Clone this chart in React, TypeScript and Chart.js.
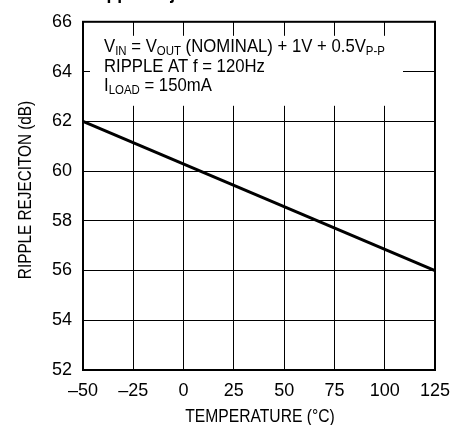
import React, { useEffect, useRef } from "react";
import { Chart, registerables } from "chart.js";

Chart.register(...registerables);

const temperatures = [-50, 125];
const rejection = [62, 56];
const xTicks = [-50, -25, 0, 25, 50, 75, 100, 125];
const yTicks = [52, 54, 56, 58, 60, 62, 64, 66];

const FONT = '"Liberation Sans", Arial, sans-serif';

const overlay = {
  id: "overlay",
  beforeDatasetsDraw(chart: any) {
    const ctx = chart.ctx;
    const a = chart.chartArea;
    ctx.save();
    ctx.fillStyle = "#fff";
    ctx.fillRect(a.left + 7, a.top + 14, 313, 70);
    ctx.fillStyle = "#000";
    ctx.textBaseline = "alphabetic";
    const sx = 0.88;
    const main = `19px ${FONT}`;
    const sub = `13px ${FONT}`;
    const drawRuns = (runs: [string, boolean][], x: number, y: number) => {
      ctx.save();
      ctx.translate(x, 0);
      ctx.scale(sx, 1);
      let cx = 0;
      for (const [t, s] of runs) {
        ctx.font = s ? sub : main;
        ctx.fillText(t, cx, s ? y + 3 : y);
        cx += ctx.measureText(t).width;
      }
      ctx.restore();
    };
    const x0 = a.left + 21;
    drawRuns([["V", false], ["IN", true], [" = V", false], ["OUT", true], [" (NOMINAL) + 1V + 0.5V", false], ["P-P", true]], x0, 52);
    drawRuns([["RIPPLE AT f = 120Hz", false]], x0, 72);
    drawRuns([["I", false], ["LOAD", true], [" = 150mA", false]], x0, 91);
    ctx.restore();
  },
  afterDraw(chart: any) {
    const ctx = chart.ctx;
    const a = chart.chartArea;
    ctx.save();
    ctx.strokeStyle = "#000";
    ctx.lineWidth = 2;
    ctx.strokeRect(a.left, a.top, a.right - a.left, a.bottom - a.top);
    ctx.restore();

    ctx.save();
    ctx.fillStyle = "#000";
    ctx.font = `18px ${FONT}`;
    ctx.textAlign = "center";
    ctx.textBaseline = "middle";
    ctx.translate(260, 417);
    ctx.scale(0.87, 1);
    ctx.fillText("TEMPERATURE (\u00B0C)", 0, 0);
    ctx.restore();

    ctx.save();
    ctx.fillStyle = "#000";
    ctx.font = `18px ${FONT}`;
    ctx.textAlign = "center";
    ctx.textBaseline = "middle";
    ctx.translate(26, 190);
    ctx.rotate(-Math.PI / 2);
    ctx.scale(0.85, 1);
    ctx.fillText("RIPPLE REJECITON (dB)", 0, 0);
    ctx.restore();

    ctx.save();
    ctx.font = `bold 20px ${FONT}`;
    ctx.textAlign = "left";
    ctx.textBaseline = "alphabetic";
    ctx.fillStyle = "#000";
    ctx.translate(89, 0);
    ctx.scale(0.88, 1);
    ctx.fillText("Ripple Rejection", 0, -1);
    ctx.restore();
  },
};

export default function App() {
  const ref = useRef<HTMLCanvasElement>(null);
  useEffect(() => {
    document.body.style.margin = "0";
    const chart = new Chart(ref.current!, {
      type: "line",
      data: {
        datasets: [
          {
            data: temperatures.map((t, i) => ({ x: t, y: rejection[i] })),
            borderColor: "#000",
            borderWidth: 3,
            pointRadius: 0,
            fill: false,
            tension: 0,
          },
        ],
      },
      options: {
        animation: false,
        responsive: false,
        maintainAspectRatio: false,
        layout: { padding: { top: 19, right: 29, left: 0, bottom: 0 } },
        plugins: { legend: { display: false }, tooltip: { enabled: false } },
        scales: {
          x: {
            type: "linear",
            min: -50,
            max: 125,
            afterBuildTicks: (s: any) => {
              s.ticks = xTicks.map((v) => ({ value: v }));
            },
            afterFit: (s: any) => {
              s.height = 55;
            },
            grid: { color: "#000", lineWidth: 1, drawTicks: false },
            border: { color: "#000", width: 2 },
            ticks: {
              color: "#000",
              font: { family: FONT, size: 18 },
              padding: 10,
              maxRotation: 0,
              autoSkip: false,
              callback: (v: any) => String(v).replace("-", "\u2013"),
            },
          },
          y: {
            type: "linear",
            min: 52,
            max: 66,
            afterBuildTicks: (s: any) => {
              s.ticks = yTicks.map((v) => ({ value: v }));
            },
            afterFit: (s: any) => {
              s.width = 83;
            },
            grid: { color: "#000", lineWidth: 1, drawTicks: false },
            border: { color: "#000", width: 2 },
            ticks: {
              color: "#000",
              font: { family: FONT, size: 18 },
              padding: 11,
              autoSkip: false,
            },
          },
        },
      },
      plugins: [overlay],
    } as any);
    return () => chart.destroy();
  }, []);
  return (
    <div style={{ position: "absolute", left: 0, top: 0, width: 464, height: 425, background: "#fff" }}>
      <canvas ref={ref} width={464} height={425} style={{ width: 464, height: 425 }} />
    </div>
  );
}
